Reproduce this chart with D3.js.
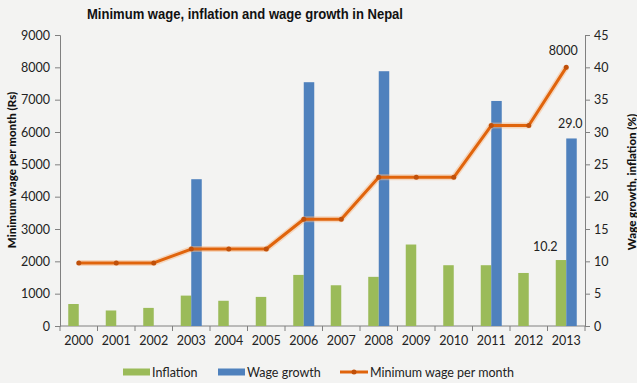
<!DOCTYPE html>
<html>
<head>
<meta charset="utf-8">
<script src="https://cdn.jsdelivr.net/npm/d3@7"></script>
<style>
  body { margin: 0; background: #f3f3f2; }
  svg { display: block; }
  .tick text { font-family: Lato, "Open Sans", sans-serif; font-size: 12.5px; fill: #222; }
  .axis path, .axis line { stroke: #808080; }
</style>
</head>
<body>
<div id="chart"></div>
<script>
var width = 637;
var height = 383;

var years = ["2000", "2001", "2002", "2003", "2004", "2005", "2006", "2007", "2008", "2009", "2010", "2011", "2012", "2013"];
var inflation = [3.4, 2.4, 2.8, 4.7, 3.9, 4.5, 7.9, 6.3, 7.6, 12.6, 9.4, 9.4, 8.2, 10.2];
var wageGrowth = [null, null, null, 22.7, null, null, 37.7, null, 39.4, null, null, 34.8, null, 29.0];
var minWage = [1950, 1950, 1950, 2380, 2380, 2380, 3300, 3300, 4600, 4600, 4600, 6200, 6200, 8000];
var wageTicks = [0, 1000, 2000, 3000, 4000, 5000, 6000, 7000, 8000, 9000];
var pctTicks = [0, 5, 10, 15, 20, 25, 30, 35, 40, 45];

var green = "#9bbb59", blue = "#4f81bd", orange = "#e0640c";

var svg = d3.select("#chart").
append("svg").
attr("width", width).
attr("height", height);

var x = d3.scaleBand().domain(years).range([60, 585]);
var yL = d3.scaleLinear().domain([0, 9000]).range([326, 35]);
var yR = d3.scaleLinear().domain([0, 45]).range([326, 35]);
var bw = x.bandwidth() * 0.28;
var mid = function (d) {return x(d) + x.bandwidth() / 2;};

// axes
svg.append("g").
attr("class", "axis").
attr("transform", "translate(60,0)").
call(d3.axisLeft(yL).tickValues(wageTicks).tickSize(5).tickPadding(5).tickFormat(d3.format("d")));

svg.append("g").
attr("class", "axis").
attr("transform", "translate(585,0)").
call(d3.axisRight(yR).tickValues(pctTicks).tickSize(5).tickPadding(4));

var xAxis = svg.append("g").
attr("class", "axis").
attr("transform", "translate(0,326)").
call(d3.axisBottom(x).tickSize(0).tickPadding(10));
xAxis.select(".domain").remove();
xAxis.append("line").attr("x1", 60).attr("x2", 585).attr("stroke", "#808080");
xAxis.selectAll(".sep").
data(years.concat(["end"])).
enter().
append("line").
attr("x1", function (d, i) {return 60 + i * x.step();}).
attr("x2", function (d, i) {return 60 + i * x.step();}).
attr("y1", 0).
attr("y2", 5).
attr("stroke", "#808080");

// bars
svg.selectAll(".infl").
data(years).
enter().
append("rect").
attr("x", function (d) {return mid(d) - bw;}).
attr("y", function (d, i) {return yR(inflation[i]);}).
attr("width", bw).
attr("height", function (d, i) {return 326 - yR(inflation[i]);}).
attr("fill", green);

svg.selectAll(".wg").
data(years.filter(function (d, i) {return wageGrowth[i] != null;})).
enter().
append("rect").
attr("x", function (d) {return mid(d);}).
attr("y", function (d) {return yR(wageGrowth[years.indexOf(d)]);}).
attr("width", bw).
attr("height", function (d) {return 326 - yR(wageGrowth[years.indexOf(d)]);}).
attr("fill", blue);

// line
var line = d3.line().
x(function (d, i) {return mid(years[i]);}).
y(function (d) {return yL(d);});

svg.append("path").
datum(minWage).
attr("d", line).
attr("fill", "none").
attr("stroke", "#f5b98a").
attr("stroke-opacity", 0.5).
attr("stroke-width", 6).
attr("stroke-linejoin", "round");

svg.append("path").
datum(minWage).
attr("d", line).
attr("fill", "none").
attr("stroke", orange).
attr("stroke-width", 3).
attr("stroke-linejoin", "round");

svg.selectAll(".pt").
data(minWage).
enter().
append("circle").
attr("cx", function (d, i) {return mid(years[i]);}).
attr("cy", function (d) {return yL(d);}).
attr("r", 2.5).
attr("fill", "#c0500a");

// data labels
var last = years.length - 1;
var lab = svg.append("g").
style("font-family", "Lato, 'Open Sans', sans-serif").
style("font-size", "12.5px").
attr("fill", "#222");
lab.append("text").attr("x", mid(years[last]) - 3).attr("y", yL(minWage[last]) - 12).attr("text-anchor", "middle").text(d3.format("d")(minWage[last]));
lab.append("text").attr("x", mid(years[last]) + 4).attr("y", yR(wageGrowth[last]) - 10).attr("text-anchor", "middle").text(d3.format(".1f")(wageGrowth[last]));
lab.append("text").attr("x", mid(years[last]) - 21).attr("y", yR(inflation[last]) - 9).attr("text-anchor", "middle").text(d3.format(".1f")(inflation[last]));

// title
svg.append("text").
attr("x", 87).
attr("y", 19).
attr("textLength", 316).
attr("lengthAdjust", "spacingAndGlyphs").
style("font-family", "'Liberation Sans', Arial, sans-serif").
style("font-weight", "bold").
style("font-size", "15.5px").
attr("fill", "#111").
text("Minimum wage, inflation and wage growth in Nepal");

// axis titles
svg.append("text").
attr("transform", "translate(16,170) rotate(-90)").
attr("text-anchor", "middle").
style("font-family", "Lato, sans-serif").
style("font-weight", "900").
style("font-size", "11.5px").
attr("fill", "#111").
text("Minimum wage per month (Rs)");

svg.append("text").
attr("transform", "translate(636,182) rotate(-90)").
attr("text-anchor", "middle").
style("font-family", "Lato, sans-serif").
style("font-weight", "900").
style("font-size", "11.5px").
attr("fill", "#111").
text("Wage growth, inflation (%)");

// legend
var legendItems = [
{ name: "Inflation", color: green, type: "rect", x: 123 },
{ name: "Wage growth", color: blue, type: "rect", x: 218 },
{ name: "Minimum wage per month", color: orange, type: "line", x: 340 }];

var legend = svg.append("g").
selectAll("g").
data(legendItems).
enter().
append("g").
attr("transform", function (d) {return "translate(" + d.x + ",372)";});

legend.filter(function (d) {return d.type == "rect";}).
append("rect").
attr("y", -3.5).
attr("width", 27).
attr("height", 7).
attr("fill", function (d) {return d.color;});

legend.filter(function (d) {return d.type == "line";}).
append("line").
attr("x2", 28).
attr("stroke", function (d) {return d.color;}).
attr("stroke-width", 3);
legend.filter(function (d) {return d.type == "line";}).
append("circle").
attr("cx", 14).
attr("r", 2.5).
attr("fill", "#c0500a");

legend.append("text").
attr("x", function (d) {return d.type == "line" ? 30 : 29;}).
attr("y", 4.5).
style("font-family", "Lato, 'Open Sans', sans-serif").
style("font-size", "12.5px").
attr("fill", "#222").
text(function (d) {return d.name;});
</script>
</body>
</html>
